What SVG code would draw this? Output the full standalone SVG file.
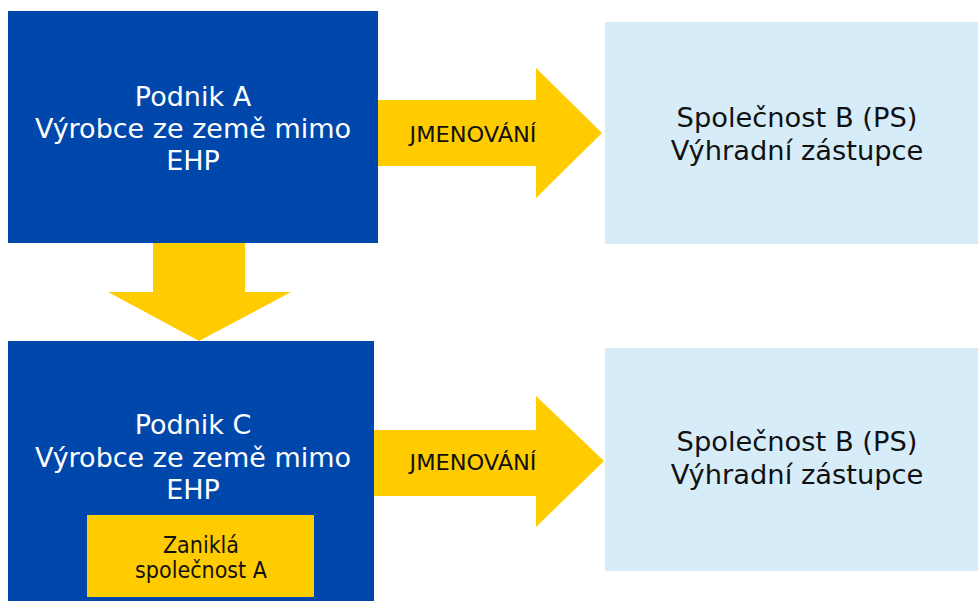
<svg xmlns="http://www.w3.org/2000/svg" width="978" height="601" viewBox="0 0 978 601">
<style>
.dark{fill:#0047AB}
.light{fill:#D6EDF9}
.yel{fill:#FFCC00}
.wt{font-family:"DejaVu Sans","Liberation Sans",sans-serif;font-size:27px;fill:#fff;text-anchor:middle}
.bt{font-family:"DejaVu Sans","Liberation Sans",sans-serif;font-size:27.3px;fill:#111;text-anchor:middle}
.lbl{font-family:"DejaVu Sans Condensed","DejaVu Sans",sans-serif;font-size:22px;fill:#111;text-anchor:middle}
.st{font-family:"DejaVu Sans Condensed","DejaVu Sans",sans-serif;font-size:23px;fill:#111;text-anchor:middle}
</style>
<rect width="978" height="601" fill="#fff"/>
<g id="connectors">
<polygon class="yel" points="378,100 536,100 536,68 602,133 536,198 536,166 378,166"/>
<text class="lbl" x="473" y="142" textLength="127" lengthAdjust="spacingAndGlyphs">JMENOVÁNÍ</text>
<polygon class="yel" points="153,243 245,243 245,292 291,292 199,341 108,292 153,292"/>
<polygon class="yel" points="374,430 536,430 536,396 604,461 536,527 536,496 374,496"/>
<text class="lbl" x="473" y="470" textLength="127" lengthAdjust="spacingAndGlyphs">JMENOVÁNÍ</text>
</g>
<g id="podnikA">
<rect class="dark" x="8" y="11" width="370" height="232"/>
<text class="wt" x="193" y="106">Podnik A</text>
<text class="wt" x="193" y="138">Výrobce ze země mimo</text>
<text class="wt" x="193" y="170">EHP</text>
</g>
<g id="spolecnostB1">
<rect class="light" x="605" y="22" width="373" height="222"/>
<text class="bt" x="797" y="127">Společnost B (PS)</text>
<text class="bt" x="797" y="160">Výhradní zástupce</text>
</g>
<g id="podnikC">
<rect class="dark" x="8" y="341" width="366" height="260"/>
<text class="wt" x="193" y="434">Podnik C</text>
<text class="wt" x="193" y="467">Výrobce ze země mimo</text>
<text class="wt" x="193" y="499">EHP</text>
</g>
<g id="zanikla">
<rect class="yel" x="87" y="515" width="227" height="82"/>
<text class="st" x="201" y="553">Zaniklá</text>
<text class="st" x="201" y="578">společnost A</text>
</g>
<g id="spolecnostB2">
<rect class="light" x="605" y="348" width="373" height="223"/>
<text class="bt" x="797" y="451">Společnost B (PS)</text>
<text class="bt" x="797" y="484">Výhradní zástupce</text>
</g>
</svg>
